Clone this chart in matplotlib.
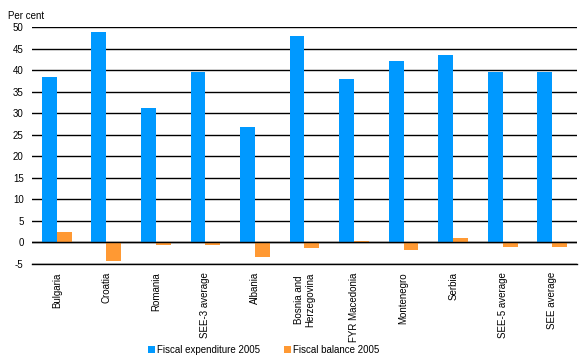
import matplotlib
matplotlib.use("Agg")
import matplotlib.pyplot as plt
import numpy as np

plt.rcParams['font.family'] = ['Liberation Sans', 'DejaVu Sans']

categories = ["Bulgaria", "Croatia", "Romania", "SEE-3 average", "Albania",
              "Bosnia and\nHerzegovina", "FYR Macedonia", "Montenegro", "Serbia",
              "SEE-5 average", "SEE average"]
expenditure = [38.4, 48.8, 31.2, 39.6, 26.8, 48.0, 37.9, 42.1, 43.5, 39.6, 39.6]
balance = [2.5, -4.3, -0.7, -0.7, -3.4, -1.2, 0.2, -1.7, 1.0, -1.0, -1.0]
yticks = list(range(-5, 51, 5))

fig = plt.figure(figsize=(5.86, 3.6), dpi=100)
ax = fig.add_axes([0.0546, 0.267, 0.93, 0.658])

x = np.arange(len(categories))
w = 0.3
ax.bar(x - w/2, expenditure, w, color="#0099FF", label="Fiscal expenditure 2005", zorder=3)
ax.bar(x + w/2, balance, w, color="#FF9933", label="Fiscal balance 2005", zorder=3)

ax.set_xlim(-0.5, len(categories) - 0.5)
ax.set_ylim(-5, 50)
ax.set_yticks(yticks)
ax.set_yticklabels([str(t) for t in yticks], fontsize=7)
ax.yaxis.grid(True, color="black", linewidth=1.0, zorder=0)
ax.axhline(0, color="black", linewidth=1.0, zorder=4)
for s in ["top", "right", "left"]:
    ax.spines[s].set_visible(False)
ax.spines["bottom"].set_linewidth(1.0)
ax.tick_params(axis="y", length=0, pad=6)
ax.tick_params(axis="x", length=0, pad=6)
ax.set_xticks(x)
ax.set_xticklabels(categories, rotation=90, fontsize=7, va="top", ha="center")

fig.text(0.014, 0.955, "Per cent", fontsize=7, ha="left", va="center")

fig.legend(loc="lower center", bbox_to_anchor=(0.45, -0.01), ncol=2, frameon=False,
           fontsize=7, handlelength=0.7, handleheight=0.7, handletextpad=0.2,
           columnspacing=2.5)

fig.savefig("out.png", dpi=100)
